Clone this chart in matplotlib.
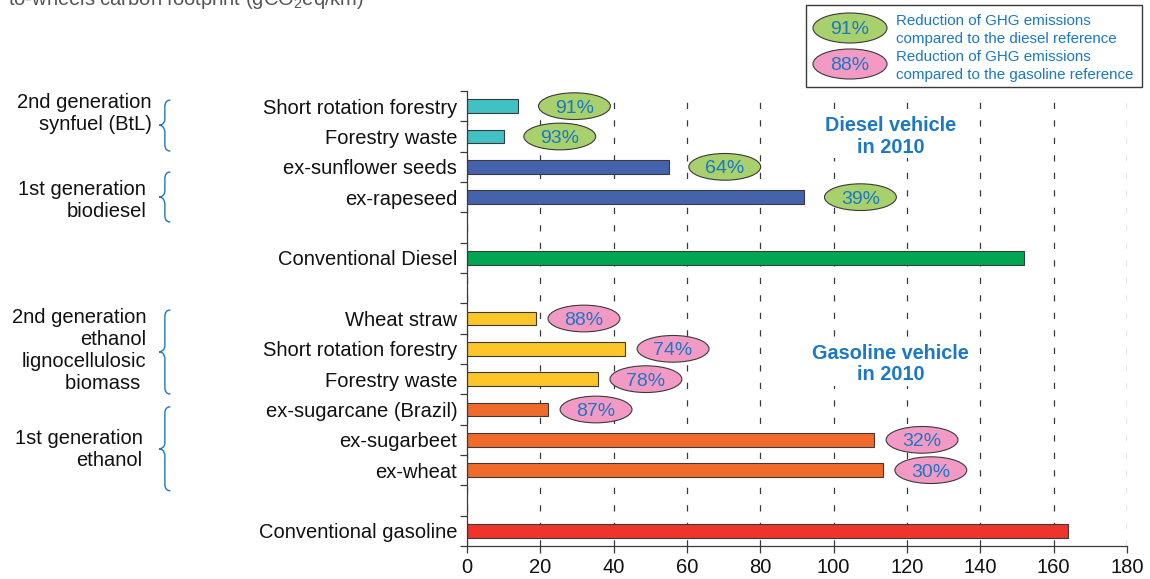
"""Well-to-wheels carbon footprint of biofuels vs fossil references (2010)."""

import matplotlib

matplotlib.use("Agg")
import matplotlib.pyplot as plt
from matplotlib.patches import Ellipse, PathPatch, Rectangle
from matplotlib.path import Path

# ---- data -----------------------------------------------------------------
DIESEL_BIO = ["Short rotation forestry", "Forestry waste", "ex-sunflower seeds", "ex-rapeseed"]
DIESEL_BIO_VALUES = [14, 10, 55, 92]
DIESEL_BIO_REDUCTION = [91, 93, 64, 39]

DIESEL_REF = ["Conventional Diesel"]
DIESEL_REF_VALUES = [152]

GASOLINE_BIO = ["Wheat straw", "Short rotation forestry", "Forestry waste",
                "ex-sugarcane (Brazil)", "ex-sugarbeet", "ex-wheat"]
GASOLINE_BIO_VALUES = [18.8, 43.1, 35.7, 22.1, 111, 113.4]
GASOLINE_BIO_REDUCTION = [88, 74, 78, 87, 32, 30]

GASOLINE_REF = ["Conventional gasoline"]
GASOLINE_REF_VALUES = [164]

X_TICKS = [0, 20, 40, 60, 80, 100, 120, 140, 160, 180]

# ---- style ----------------------------------------------------------------
W, H, DPI = 1150, 579, 100
BLUE_TXT = "#1a78c6"
GREEN_OVAL = "#a8d06c"
PINK_OVAL = "#f39ac4"
EDGE = "#3a3a3a"
COL_BTL = "#41c1c3"
COL_BIODIESEL = "#4563ad"
COL_DIESEL = "#00a651"
COL_ETH2 = "#fcc62a"
COL_ETH1 = "#f06b2b"
COL_GASOLINE = "#ee342b"

plt.rcParams.update({
    "font.family": ["Liberation Sans", "DejaVu Sans"],
    "mathtext.fontset": "custom",
    "mathtext.rm": "Liberation Sans",
    "mathtext.it": "Liberation Sans:italic",
    "font.size": 14.5,
})


def px(x, y):
    """pixel (from top-left) -> figure fraction"""
    return x / W, 1 - y / H


def brace(ax, x_tip, y0, y1, y_mid, depth=1.6, arm=1.5, curl=0.22):
    xb = x_tip + depth
    xr = xb + arm
    verts = [
        (xr, y0), (xb, y0), (xb, y0 + curl),
        (xb, y_mid - curl),
        (xb, y_mid), (x_tip, y_mid), (x_tip, y_mid),
        (xb, y_mid), (xb, y_mid + curl), (xb, y_mid + curl),
        (xb, y1 - curl),
        (xb, y1), (xr, y1),
    ]
    codes = [Path.MOVETO, Path.CURVE3, Path.CURVE3, Path.LINETO,
             Path.CURVE4, Path.CURVE4, Path.CURVE4,
             Path.CURVE4, Path.CURVE4, Path.CURVE4,
             Path.LINETO, Path.CURVE3, Path.CURVE3]
    ax.add_patch(PathPatch(Path(verts, codes), fill=False, edgecolor=BLUE_TXT,
                           linewidth=1.0, clip_on=False))


def oval(ax, x, y, text, face):
    ax.add_patch(Ellipse((x, y), width=19.6, height=0.88, facecolor=face,
                         edgecolor=EDGE, linewidth=0.8, zorder=3, clip_on=False))
    ax.text(x, y, text, ha="center", va="center_baseline", color=BLUE_TXT,
            fontsize=14, zorder=4)


# ---- layout of rows: one empty slot between groups -------------------------
groups = [
    (DIESEL_BIO[:2], DIESEL_BIO_VALUES[:2], COL_BTL),
    (DIESEL_BIO[2:], DIESEL_BIO_VALUES[2:], COL_BIODIESEL),
    None,
    (DIESEL_REF, DIESEL_REF_VALUES, COL_DIESEL),
    None,
    (GASOLINE_BIO[:3], GASOLINE_BIO_VALUES[:3], COL_ETH2),
    (GASOLINE_BIO[3:], GASOLINE_BIO_VALUES[3:], COL_ETH1),
    None,
    (GASOLINE_REF, GASOLINE_REF_VALUES, COL_GASOLINE),
]
labels, values, colors, ypos = [], [], [], []
slot = 0
for g in groups:
    if g is None:
        slot += 1
        continue
    for name, val in zip(g[0], g[1]):
        labels.append(name)
        values.append(val)
        colors.append(g[2])
        ypos.append(slot)
        slot += 1
n_slots = slot

fig = plt.figure(figsize=(W / DPI, H / DPI), dpi=DPI)
left, top = px(467, 91)
right, bottom = px(1127, 546)
ax = fig.add_axes([left, bottom, right - left, top - bottom])

ax.barh(ypos, values, height=0.45, color=colors, edgecolor=EDGE, linewidth=0.8,
        zorder=2)

ax.set_xlim(0, 180)
ax.set_ylim(n_slots - 0.5, -0.5)
ax.set_xticks(X_TICKS)
ax.set_yticks(ypos)
ax.set_yticklabels(labels)
ax.set_yticks([i - 0.5 for i in range(n_slots + 1)], minor=True)
ax.tick_params(axis="y", which="major", length=0, pad=7, labelcolor="#111")
ax.tick_params(axis="y", which="minor", length=5, width=0.9, color=EDGE)
ax.tick_params(axis="x", length=5, width=0.9, color=EDGE, labelcolor="#111")
for s in ("top", "right"):
    ax.spines[s].set_visible(False)
for s in ("left", "bottom"):
    ax.spines[s].set_color(EDGE)
    ax.spines[s].set_linewidth(0.9)
ax.xaxis.grid(True, linestyle=(0, (5, 9)), color=EDGE, linewidth=0.9)
ax.set_axisbelow(True)

# reduction ovals next to the biofuel bars
d_rows = ypos[:len(DIESEL_BIO)]
for y, v, r in zip(d_rows, DIESEL_BIO_VALUES, DIESEL_BIO_REDUCTION):
    oval(ax, v + 15.3, y, f"{r}%", GREEN_OVAL)
g_rows = ypos[len(DIESEL_BIO) + 1:len(DIESEL_BIO) + 1 + len(GASOLINE_BIO)]
for y, v, r in zip(g_rows, GASOLINE_BIO_VALUES, GASOLINE_BIO_REDUCTION):
    oval(ax, v + 13.1, y, f"{r}%", PINK_OVAL)

ax.text(115.5, 1.0, "Diesel vehicle\nin 2010", ha="center", va="center",
        fontsize=14.3, fontweight="bold", color=BLUE_TXT, linespacing=1.15,
        bbox=dict(facecolor="white", edgecolor="none", pad=1), zorder=3)
ax.text(115.5, 8.5, "Gasoline vehicle\nin 2010", ha="center", va="center",
        fontsize=14.3, fontweight="bold", color=BLUE_TXT, linespacing=1.15,
        bbox=dict(facecolor="white", edgecolor="none", pad=1), zorder=3)

# family braces on the left
families = [
    ("2nd generation\nsynfuel (BtL)", -0.2, 1.48, 0.63, 0.23, -86.0),
    ("1st generation\nbiodiesel", 2.17, 3.82, 3.0, 3.1, -87.5),
    ("2nd generation\nethanol\nlignocellulosic\nbiomass ", 6.72, 9.49, 8.1, 8.04, -87.5),
    ("1st generation\nethanol", 9.91, 12.68, 11.3, 11.33, -88.5),
]
for text, y0, y1, ym, yt, xt in families:
    brace(ax, -84.0, y0, y1, ym)
    ax.text(xt, yt, text, ha="right", va="center", ma="right", color="#111",
            linespacing=1.2, clip_on=False)

# axis title, partly outside the top edge as in the source figure
fig.text(*px(8, 5), r"to-wheels carbon footprint (gCO$_2$eq/km)",
         ha="left", va="baseline", color="#555555", fontsize=14.5)

# legend box
lx0, ly0, lx1, ly1 = 806, 5, 1142, 87
lax = fig.add_axes([lx0 / W, 1 - ly1 / H, (lx1 - lx0) / W, (ly1 - ly0) / H])
lax.set_xlim(0, lx1 - lx0)
lax.set_ylim(ly1 - ly0, 0)
lax.axis("off")
lax.add_patch(Rectangle((0, 0), lx1 - lx0, ly1 - ly0, fill=False,
                        edgecolor=EDGE, linewidth=1.0, clip_on=False))
legend_items = [
    ("91%", GREEN_OVAL, "Reduction of GHG emissions\ncompared to the diesel reference"),
    ("88%", PINK_OVAL, "Reduction of GHG emissions\ncompared to the gasoline reference"),
]
for i, (pct, face, desc) in enumerate(legend_items):
    cy = 23 + i * 36
    lax.add_patch(Ellipse((44, cy), width=74, height=30, facecolor=face,
                          edgecolor=EDGE, linewidth=0.8))
    lax.text(44, cy, pct, ha="center", va="center_baseline", color=BLUE_TXT,
             fontsize=14)
    lax.text(90, cy + 2, desc, ha="left", va="center", color=BLUE_TXT,
             fontsize=10.9, linespacing=1.4)

fig.savefig("out.png", dpi=DPI)
